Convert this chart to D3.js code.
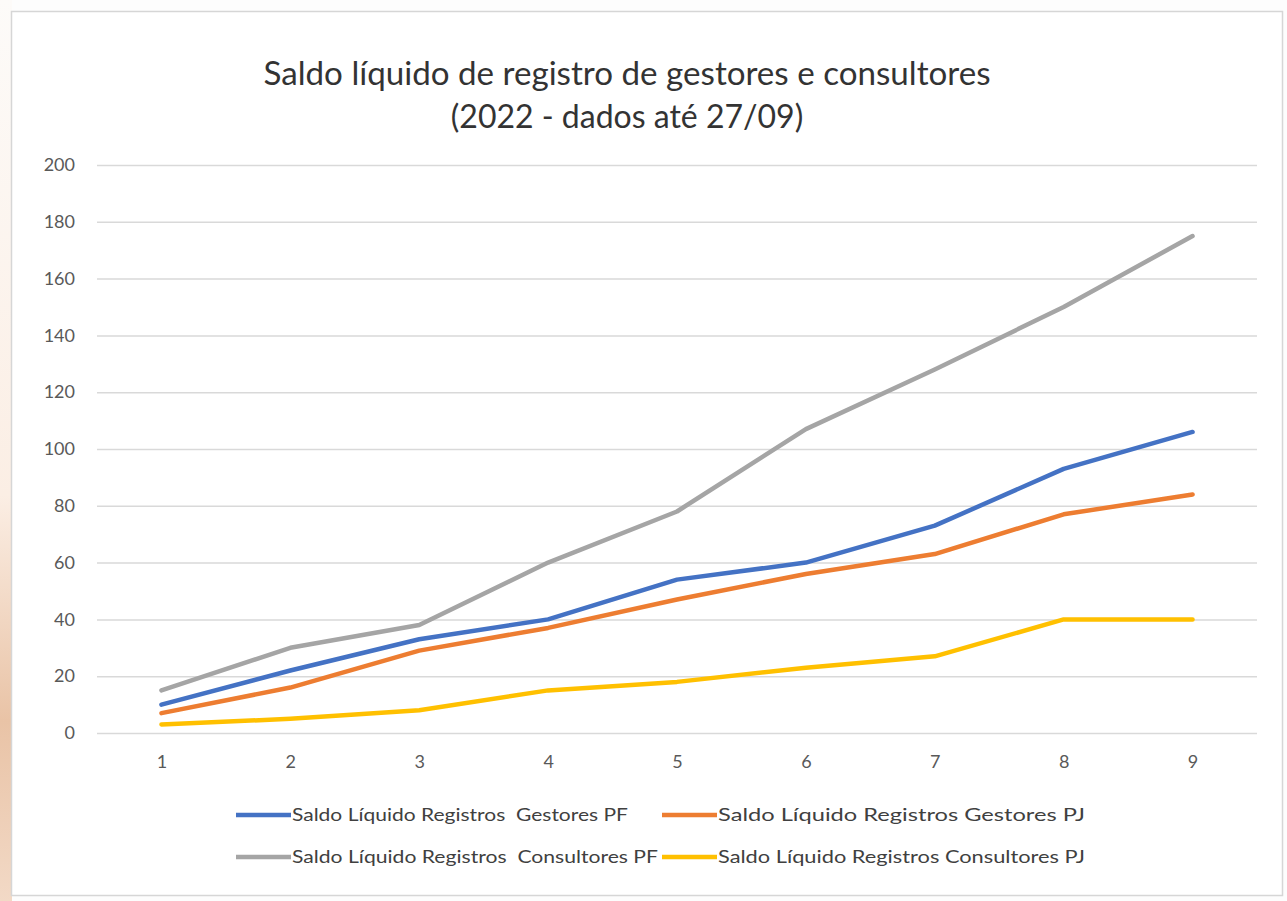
<!DOCTYPE html>
<meta charset="utf-8">
<head>
<style>
  body { margin: 0; background: #fff; }
  text { font-family: Lato, "Open Sans", sans-serif; }
</style>
</head>
<body>
<script src="https://cdnjs.cloudflare.com/ajax/libs/d3/7.8.5/d3.min.js"></script>
<script>

// data
const months = [1, 2, 3, 4, 5, 6, 7, 8, 9];
const gestoresPF = [10, 22, 33, 40, 54, 60, 73, 93, 106];
const gestoresPJ = [7, 16, 29, 37, 47, 56, 63, 77, 84];
const consultoresPF = [15, 30, 38, 60, 78, 107, 128, 150, 175];
const consultoresPJ = [3, 5, 8, 15, 18, 23, 27, 40, 40];
const yTicks = [0, 20, 40, 60, 80, 100, 120, 140, 160, 180, 200];

const seriesNames = [
  "Saldo Líquido Registros  Gestores PF",
  "Saldo Líquido Registros Gestores PJ",
  "Saldo Líquido Registros  Consultores PF",
  "Saldo Líquido Registros Consultores PJ"
];
const colors = ["#4472c4", "#ed7d31", "#a5a5a5", "#ffc000"];

const series = [gestoresPF, gestoresPJ, consultoresPF, consultoresPJ].map((v, i) => ({
  name: seriesNames[i], color: colors[i], values: v
}));

const W = 1287, H = 901;
const svg = d3.select("body").append("svg")
  .attr("width", W).attr("height", H);

// background: peach tint on the left edge
const defs = svg.append("defs");
const grad = defs.append("linearGradient").attr("id", "bg")
  .attr("x1", 0).attr("y1", 0).attr("x2", 0).attr("y2", 1);
grad.append("stop").attr("offset", "0%").attr("stop-color", "#fdfbf9");
grad.append("stop").attr("offset", "55%").attr("stop-color", "#fbeee4");
grad.append("stop").attr("offset", "80%").attr("stop-color", "#e9c3a6");
grad.append("stop").attr("offset", "100%").attr("stop-color", "#f2d9c6");
svg.append("rect").attr("width", W).attr("height", H).attr("fill", "#fdfdfd");
svg.append("rect").attr("width", 12).attr("height", H).attr("fill", "url(#bg)");

// chart panel
svg.append("rect")
  .attr("x", 11.5).attr("y", 11.5)
  .attr("width", 1271).attr("height", 884)
  .attr("fill", "#fff")
  .attr("stroke", "#d6d6d6").attr("stroke-width", 1.5);

const plot = {left: 97, right: 1257, top: 165, bottom: 733};

const x = d3.scalePoint()
  .domain(months)
  .range([plot.left, plot.right])
  .padding(0.5);

const y = d3.scaleLinear()
  .domain([0, 200])
  .range([plot.bottom, plot.top]);

// gridlines
const yAxis = d3.axisLeft(y)
  .tickValues(yTicks)
  .tickSize(-(plot.right - plot.left))
  .tickPadding(22);

const gy = svg.append("g")
  .attr("transform", `translate(${plot.left},0)`)
  .call(yAxis);
gy.select(".domain").remove();
gy.selectAll(".tick line")
  .attr("stroke", "#d9d9d9").attr("stroke-width", 1.5);
gy.selectAll(".tick text")
  .attr("fill", "#595959")
  .style("font-size", "18px")
  .style("font-family", "Lato, sans-serif");

const xAxis = d3.axisBottom(x).tickSize(0).tickPadding(22);
const gx = svg.append("g")
  .attr("transform", `translate(0,${plot.bottom})`)
  .call(xAxis);
gx.select(".domain").remove();
gx.selectAll(".tick text")
  .attr("fill", "#595959")
  .style("font-size", "18px")
  .style("font-family", "Lato, sans-serif");

// lines
const line = d3.line()
  .x((d, i) => x(months[i]))
  .y(d => y(d));

svg.append("g")
  .selectAll("path")
  .data(series)
  .join("path")
    .attr("d", d => line(d.values))
    .attr("fill", "none")
    .attr("stroke", d => d.color)
    .attr("stroke-width", 4.5)
    .attr("stroke-linejoin", "round")
    .attr("stroke-linecap", "round");

// title
const title = svg.append("text")
  .attr("text-anchor", "middle")
  .attr("fill", "#333")
  .style("font-size", "32px");
title.append("tspan").attr("x", 627).attr("y", 85)
  .attr("textLength", 727).attr("lengthAdjust", "spacingAndGlyphs")
  .text("Saldo líquido de registro de gestores e consultores");
title.append("tspan").attr("x", 627).attr("y", 128)
  .text("(2022 - dados até 27/09)");

// legend
const legendPos = [[236, 815], [662, 815], [236, 857], [662, 857]];
const legendW = [336, 367, 366, 367];
const lg = svg.append("g")
  .selectAll("g")
  .data(series)
  .join("g")
    .attr("transform", (d, i) => `translate(${legendPos[i][0]},${legendPos[i][1]})`);
lg.append("line")
  .attr("x1", 0).attr("x2", 55)
  .attr("stroke", d => d.color)
  .attr("stroke-width", 4.5);
lg.append("text")
  .attr("x", 56)
  .attr("dy", "0.35em")
  .attr("fill", "#404040")
  .style("font-size", "17px")
  .style("white-space", "pre")
  .attr("textLength", (d, i) => legendW[i])
  .attr("lengthAdjust", "spacingAndGlyphs")
  .text(d => d.name);

</script>
</body>
